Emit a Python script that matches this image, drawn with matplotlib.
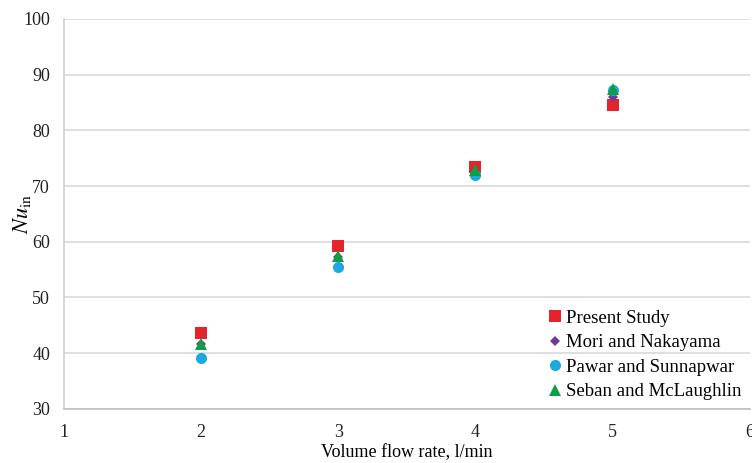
import matplotlib
matplotlib.use('Agg')
import matplotlib.pyplot as plt

plt.rcParams.update({
    'font.family': ['Liberation Serif', 'DejaVu Serif'],
    'mathtext.fontset': 'stix',
    'font.size': 13,
})

flow = [2, 3, 4, 5]
present = [43.7, 59.3, 73.4, 84.6]
mori = [41.6, 57.3, 72.6, 86.0]
pawar = [39.2, 55.5, 72.0, 87.2]
seban = [41.6, 57.5, 72.8, 87.5]

series = [
    ('Present Study', present, 's', '#E4232B', 8.0),
    ('Mori and Nakayama', mori, 'D', '#6A3E98', 5.5),
    ('Pawar and Sunnapwar', pawar, 'o', '#1BA9E1', 8.0),
    ('Seban and McLaughlin', seban, '^', '#0F9D48', 8.0),
]

fig = plt.figure(figsize=(7.52, 4.63), dpi=100)
ax = fig.add_axes([0.085, 0.117, 0.912, 0.842])

for label, vals, mk, col, ms in series:
    ax.plot(flow, vals, linestyle='none', marker=mk, color=col,
            markersize=ms, markeredgewidth=0, label=label, zorder=3)

ax.set_xlim(1, 6)
ax.set_ylim(30, 100)
ax.set_xticks(range(1, 7))
ax.set_yticks(range(30, 101, 10))
ax.yaxis.grid(True, color='#D9D9D9', linewidth=1.2)
ax.set_axisbelow(True)
ax.tick_params(length=0, colors='#222222')
ax.tick_params(axis='x', pad=11)
ax.tick_params(axis='y', pad=10)

for s in ['top', 'right']:
    ax.spines[s].set_visible(False)
ax.spines['left'].set_color('#CFCFCF')
ax.spines['bottom'].set_color('#BFBFBF')
ax.spines['left'].set_linewidth(1.2)
ax.spines['bottom'].set_linewidth(1.2)

ax.set_xlabel('Volume flow rate, l/min', labelpad=2)
ax.set_ylabel(r'$\mathit{Nu}_{\mathrm{in}}$', fontsize=16)
ax.yaxis.set_label_coords(-0.045, 0.5)

ax.legend(loc='lower right', frameon=False, handletextpad=0.1,
          handlelength=1.0, labelspacing=0.4, borderaxespad=0.0,
          borderpad=0.45, fontsize=13.5)

fig.savefig('out.png', dpi=100)
